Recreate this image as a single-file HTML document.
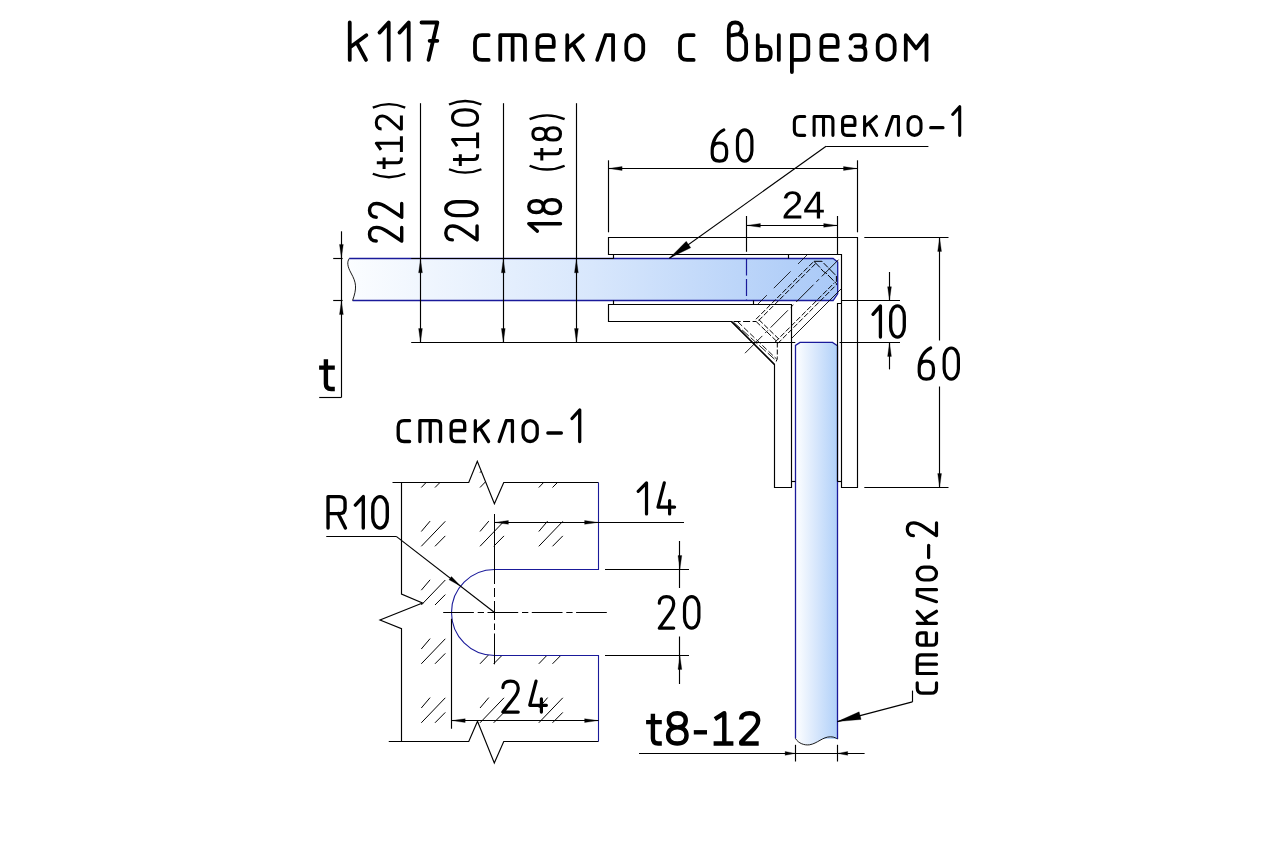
<!DOCTYPE html>
<html><head><meta charset="utf-8"><title>k117</title>
<style>
html,body{margin:0;padding:0;background:#fff;}
body{width:1280px;height:850px;overflow:hidden;font-family:"Liberation Sans",sans-serif;}
svg{display:block}
.t path{vector-effect:non-scaling-stroke}
</style></head><body>
<svg width="1280" height="850" viewBox="0 0 1280 850">
<rect width="1280" height="850" fill="#fff"/>
<defs>
<linearGradient id="g1" gradientUnits="userSpaceOnUse" x1="347" y1="0" x2="838" y2="0">
<stop offset="0" stop-color="#fbfdff"/><stop offset="0.5" stop-color="#d8e7fc"/><stop offset="1" stop-color="#a9c9f7"/></linearGradient>
<linearGradient id="g2" gradientUnits="userSpaceOnUse" x1="796" y1="0" x2="837.5" y2="0">
<stop offset="0" stop-color="#fdfeff"/><stop offset="0.5" stop-color="#d6e6fc"/><stop offset="1" stop-color="#b0d0f9"/></linearGradient>
<clipPath id="clipd"><path d="M401.25,482.5 L468.75,482.5 L477.3,461.25 L494.4,503.75 L503.75,482.5 L598.75,482.5 L598.75,569.5 L494.25,569.5 A43,43 0 0 0 494.25,655.5 L598.75,655.5 L598.75,741.25 L503.75,741.25 L494.3,763 L477.5,721.25 L468.75,741.25 L401.25,741.25 L401.25,628.75 L380,620 L422.5,603 L401.25,594 Z"/></clipPath>
</defs>
<path d="M349.2,258.5 C347.0,262 347.2,266 351,273 C356.5,283 357,288 352.6,300.5 L833.1,300.5 L837.7,293.9 L837.7,262.0 L833.1,258.5 Z" fill="url(#g1)" stroke="none" stroke-width="0" />
<path d="M795.5,345.4 L800.0,342.4 L832.5,342.4 L837.5,345.79999999999995 L837.5,739 L795.5,739 Z" fill="url(#g2)" stroke="none" stroke-width="0" />
<path d="M795.5,738.5 C798.5,743.5 804.5,745.5 809.5,744.8 C817.5,743.5 822.5,736.8 830.5,736.8 C834.5,736.8 836.5,738.5 837.5,739 Z" fill="url(#g2)" stroke="none" stroke-width="0" />
<path d="M349.2,258.5 L833.1,258.5 L837.7,262.0 L837.7,293.9 L833.1,300.5 L352.6,300.5" fill="none" stroke="#1a1a9a" stroke-width="1.3" />
<path d="M349.2,258.5 C347.0,262 347.2,266 351,273 C356.5,283 357,288 352.6,300.5" fill="none" stroke="#000" stroke-width="0.9" />
<line x1="411.20" y1="258.50" x2="613.50" y2="258.50" stroke="#000" stroke-width="1.15" stroke-linecap="butt"/>
<line x1="746.50" y1="258.50" x2="746.50" y2="300.50" stroke="#1a1a9a" stroke-width="1.2" stroke-dasharray="17 3.5" stroke-linecap="butt"/>
<path d="M795.5,738.5 L795.5,345.4 L800.0,342.4 L832.5,342.4 L837.5,345.79999999999995 L837.5,739" fill="none" stroke="#1a1a9a" stroke-width="1.3" />
<path d="M795.5,738.5 C798.5,743.5 804.5,745.5 809.5,744.8 C817.5,743.5 822.5,736.8 830.5,736.8 C834.5,736.8 836.5,738.5 837.5,739" fill="none" stroke="#000" stroke-width="0.9" />
<polygon points="608.50,237.50 857.50,237.50 857.50,487.50 841.50,487.50 841.50,254.50 608.50,254.50" fill="none" stroke="#000" stroke-width="1.15" stroke-linejoin="miter"/>
<polygon points="608.50,304.50 791.50,304.50 791.50,487.50 774.50,487.50 774.50,364.50 731.50,321.50 608.50,321.50" fill="none" stroke="#000" stroke-width="1.15" stroke-linejoin="miter"/>
<line x1="731.50" y1="321.50" x2="774.50" y2="364.50" stroke="#000" stroke-width="1.35" stroke-linecap="butt"/>
<polyline points="613.50,254.50 613.50,258.50" fill="none" stroke="#000" stroke-width="1.15" stroke-linejoin="miter"/>
<polyline points="788.50,254.50 788.50,258.50" fill="none" stroke="#000" stroke-width="1.15" stroke-linejoin="miter"/>
<polyline points="613.50,300.50 613.50,304.50" fill="none" stroke="#000" stroke-width="1.15" stroke-linejoin="miter"/>
<polyline points="753.50,300.50 753.50,304.50" fill="none" stroke="#000" stroke-width="1.15" stroke-linejoin="miter"/>
<polyline points="837.50,481.50 837.50,303.50 841.50,303.50" fill="none" stroke="#000" stroke-width="1.15" stroke-linejoin="miter"/>
<line x1="837.60" y1="481.50" x2="841.40" y2="481.50" stroke="#000" stroke-width="1.15" stroke-linecap="butt"/>
<line x1="791.70" y1="481.50" x2="795.50" y2="481.50" stroke="#000" stroke-width="1.15" stroke-linecap="butt"/>
<line x1="411.20" y1="342.50" x2="795.30" y2="342.50" stroke="#000" stroke-width="1.15" stroke-linecap="butt"/>
<line x1="839.50" y1="342.50" x2="900.00" y2="342.50" stroke="#000" stroke-width="1.15" stroke-linecap="butt"/>
<line x1="841.40" y1="300.50" x2="900.00" y2="300.50" stroke="#000" stroke-width="1.15" stroke-linecap="butt"/>
<line x1="756.00" y1="319.20" x2="813.90" y2="261.30" stroke="#000" stroke-width="1.0" stroke-dasharray="5.5 2" stroke-linecap="butt"/>
<line x1="758.60" y1="320.60" x2="816.50" y2="262.70" stroke="#000" stroke-width="1.0" stroke-dasharray="5.5 2" stroke-linecap="butt"/>
<line x1="777.60" y1="343.60" x2="836.40" y2="284.80" stroke="#000" stroke-width="1.0" stroke-dasharray="5.5 2" stroke-linecap="butt"/>
<line x1="775.20" y1="342.00" x2="834.30" y2="282.90" stroke="#000" stroke-width="1.0" stroke-dasharray="5.5 2" stroke-linecap="butt"/>
<path d="M813.9,261.3 L821.9,261.3 L836.4,276.0 L836.4,284.8" fill="none" stroke="#000" stroke-width="1.0" stroke-dasharray="9 1.5 6 1.5" />
<path d="M814.4,261.8 L820,267.5 Q823,272 826,273 L836.2,283.4" fill="none" stroke="#000" stroke-width="1.0" stroke-dasharray="8 1.5" />
<line x1="756.20" y1="321.60" x2="777.40" y2="342.00" stroke="#000" stroke-width="1.0" stroke-dasharray="5.5 2" stroke-linecap="butt"/>
<line x1="758.80" y1="319.60" x2="779.20" y2="339.40" stroke="#000" stroke-width="1.0" stroke-dasharray="5.5 2" stroke-linecap="butt"/>
<line x1="733.60" y1="321.50" x2="756.20" y2="321.50" stroke="#000" stroke-width="1.0" stroke-dasharray="7 2.5" stroke-linecap="butt"/>
<path d="M777.3,342.5 L777.3,357.5 Q777.3,360.5 775.8,361.4" fill="none" stroke="#000" stroke-width="1.0" stroke-dasharray="5 2" />
<line x1="733.60" y1="322.30" x2="777.00" y2="361.40" stroke="#000" stroke-width="0.9" stroke-dasharray="9 2.5" stroke-linecap="butt"/>
<line x1="737.80" y1="321.80" x2="776.60" y2="359.00" stroke="#000" stroke-width="0.9" stroke-dasharray="6 2.5" stroke-linecap="butt"/>
<line x1="745.00" y1="353.20" x2="838.50" y2="259.70" stroke="#000" stroke-width="0.9" stroke-dasharray="24.5 4 3.7 4" stroke-linecap="butt"/>
<line x1="758.00" y1="304.00" x2="766.90" y2="295.10" stroke="#000" stroke-width="0.8" stroke-linecap="butt"/>
<line x1="773.80" y1="288.20" x2="790.60" y2="271.40" stroke="#000" stroke-width="0.8" stroke-linecap="butt"/>
<line x1="798.00" y1="264.00" x2="807.00" y2="255.00" stroke="#000" stroke-width="0.8" stroke-linecap="butt"/>
<line x1="791.90" y1="338.10" x2="841.20" y2="288.80" stroke="#000" stroke-width="0.9" stroke-linecap="butt"/>
<line x1="333.20" y1="258.50" x2="342.60" y2="258.50" stroke="#000" stroke-width="1.15" stroke-linecap="butt"/>
<line x1="333.20" y1="300.50" x2="342.60" y2="300.50" stroke="#000" stroke-width="1.15" stroke-linecap="butt"/>
<line x1="341.50" y1="231.30" x2="341.50" y2="397.50" stroke="#000" stroke-width="1.15" stroke-linecap="butt"/>
<line x1="319.20" y1="397.50" x2="341.40" y2="397.50" stroke="#000" stroke-width="1.15" stroke-linecap="butt"/>
<polygon points="341.40,257.90 339.50,244.40 343.30,244.40" fill="#000" stroke="#000" stroke-width="0.3"/>
<polygon points="341.40,301.10 343.30,314.60 339.50,314.60" fill="#000" stroke="#000" stroke-width="0.3"/>
<line x1="420.50" y1="103.20" x2="420.50" y2="342.50" stroke="#000" stroke-width="1.15" stroke-linecap="butt"/>
<polygon points="420.50,259.30 422.40,272.80 418.60,272.80" fill="#000" stroke="#000" stroke-width="0.3"/>
<polygon points="420.50,342.00 418.60,328.50 422.40,328.50" fill="#000" stroke="#000" stroke-width="0.3"/>
<line x1="503.50" y1="103.20" x2="503.50" y2="342.50" stroke="#000" stroke-width="1.15" stroke-linecap="butt"/>
<polygon points="503.30,259.30 505.20,272.80 501.40,272.80" fill="#000" stroke="#000" stroke-width="0.3"/>
<polygon points="503.30,342.00 501.40,328.50 505.20,328.50" fill="#000" stroke="#000" stroke-width="0.3"/>
<line x1="576.50" y1="103.20" x2="576.50" y2="342.50" stroke="#000" stroke-width="1.15" stroke-linecap="butt"/>
<polygon points="576.40,259.30 578.30,272.80 574.50,272.80" fill="#000" stroke="#000" stroke-width="0.3"/>
<polygon points="576.40,342.00 574.50,328.50 578.30,328.50" fill="#000" stroke="#000" stroke-width="0.3"/>
<line x1="608.50" y1="160.30" x2="608.50" y2="232.30" stroke="#000" stroke-width="1.15" stroke-linecap="butt"/>
<line x1="857.50" y1="160.30" x2="857.50" y2="232.30" stroke="#000" stroke-width="1.15" stroke-linecap="butt"/>
<line x1="608.25" y1="168.50" x2="857.40" y2="168.50" stroke="#000" stroke-width="1.15" stroke-linecap="butt"/>
<polygon points="608.60,168.50 622.10,166.60 622.10,170.40" fill="#000" stroke="#000" stroke-width="0.3"/>
<polygon points="857.00,168.50 843.50,170.40 843.50,166.60" fill="#000" stroke="#000" stroke-width="0.3"/>
<line x1="746.50" y1="216.00" x2="746.50" y2="251.80" stroke="#000" stroke-width="1.15" stroke-linecap="butt"/>
<line x1="837.50" y1="216.00" x2="837.50" y2="254.40" stroke="#000" stroke-width="1.15" stroke-linecap="butt"/>
<line x1="746.50" y1="225.50" x2="837.60" y2="225.50" stroke="#000" stroke-width="1.15" stroke-linecap="butt"/>
<polygon points="746.90,225.40 760.40,223.50 760.40,227.30" fill="#000" stroke="#000" stroke-width="0.3"/>
<polygon points="837.20,225.40 823.70,227.30 823.70,223.50" fill="#000" stroke="#000" stroke-width="0.3"/>
<line x1="864.30" y1="237.50" x2="948.50" y2="237.50" stroke="#000" stroke-width="1.15" stroke-linecap="butt"/>
<line x1="864.30" y1="487.50" x2="948.50" y2="487.50" stroke="#000" stroke-width="1.15" stroke-linecap="butt"/>
<line x1="939.50" y1="237.50" x2="939.50" y2="340.50" stroke="#000" stroke-width="1.15" stroke-linecap="butt"/>
<line x1="939.50" y1="386.50" x2="939.50" y2="487.50" stroke="#000" stroke-width="1.15" stroke-linecap="butt"/>
<polygon points="939.60,237.90 941.50,251.40 937.70,251.40" fill="#000" stroke="#000" stroke-width="0.3"/>
<polygon points="939.60,487.10 937.70,473.60 941.50,473.60" fill="#000" stroke="#000" stroke-width="0.3"/>
<line x1="889.50" y1="272.00" x2="889.50" y2="300.60" stroke="#000" stroke-width="1.15" stroke-linecap="butt"/>
<line x1="889.50" y1="342.50" x2="889.50" y2="369.40" stroke="#000" stroke-width="1.15" stroke-linecap="butt"/>
<polygon points="889.50,300.20 887.60,286.70 891.40,286.70" fill="#000" stroke="#000" stroke-width="0.3"/>
<polygon points="889.50,342.90 891.40,356.40 887.60,356.40" fill="#000" stroke="#000" stroke-width="0.3"/>
<line x1="639.00" y1="753.50" x2="864.60" y2="753.50" stroke="#000" stroke-width="1.15" stroke-linecap="butt"/>
<line x1="795.50" y1="744.80" x2="795.50" y2="761.50" stroke="#000" stroke-width="1.15" stroke-linecap="butt"/>
<line x1="837.50" y1="744.80" x2="837.50" y2="761.50" stroke="#000" stroke-width="1.15" stroke-linecap="butt"/>
<polygon points="795.10,753.40 785.10,755.30 785.10,751.50" fill="#000" stroke="#000" stroke-width="0.3"/>
<polygon points="837.70,753.40 847.70,751.50 847.70,755.30" fill="#000" stroke="#000" stroke-width="0.3"/>
<line x1="669.40" y1="258.20" x2="826.10" y2="146.20" stroke="#000" stroke-width="1.15" stroke-linecap="butt"/>
<line x1="826.10" y1="146.50" x2="928.40" y2="146.50" stroke="#000" stroke-width="1.15" stroke-linecap="butt"/>
<polygon points="669.40,258.20 686.24,241.35 690.78,247.69" fill="#000" stroke="#000" stroke-width="0.3"/>
<line x1="837.40" y1="721.60" x2="912.40" y2="701.90" stroke="#000" stroke-width="1.15" stroke-linecap="butt"/>
<line x1="912.50" y1="701.90" x2="912.50" y2="690.60" stroke="#000" stroke-width="1.15" stroke-linecap="butt"/>
<polygon points="837.40,721.60 859.14,711.86 861.12,719.41" fill="#000" stroke="#000" stroke-width="0.3"/>
<g clip-path="url(#clipd)" stroke="#000" stroke-width="1.0" fill="none">
<path d="M362.6,487.5 l24,-25 M362.6,472.7 l8.8,-10.4 M376.2,487.5 l10.3,-10.4"/>
<path d="M362.6,546.3 l24,-25 M362.6,531.5 l8.8,-10.4 M376.2,546.3 l10.3,-10.4"/>
<path d="M362.6,605.0 l24,-25 M362.6,590.2 l8.8,-10.4 M376.2,605.0 l10.3,-10.4"/>
<path d="M362.6,663.8 l24,-25 M362.6,649.0 l8.8,-10.4 M376.2,663.8 l10.3,-10.4"/>
<path d="M362.6,722.8 l24,-25 M362.6,708.0 l8.8,-10.4 M376.2,722.8 l10.3,-10.4"/>
<path d="M421.3,487.5 l24,-25 M421.3,472.7 l8.8,-10.4 M435.0,487.5 l10.3,-10.4"/>
<path d="M421.3,546.3 l24,-25 M421.3,531.5 l8.8,-10.4 M435.0,546.3 l10.3,-10.4"/>
<path d="M421.3,605.0 l24,-25 M421.3,590.2 l8.8,-10.4 M435.0,605.0 l10.3,-10.4"/>
<path d="M421.3,663.8 l24,-25 M421.3,649.0 l8.8,-10.4 M435.0,663.8 l10.3,-10.4"/>
<path d="M421.3,722.8 l24,-25 M421.3,708.0 l8.8,-10.4 M435.0,722.8 l10.3,-10.4"/>
<path d="M480.0,487.5 l24,-25 M480.0,472.7 l8.8,-10.4 M493.7,487.5 l10.3,-10.4"/>
<path d="M480.0,546.3 l24,-25 M480.0,531.5 l8.8,-10.4 M493.7,546.3 l10.3,-10.4"/>
<path d="M480.0,605.0 l24,-25 M480.0,590.2 l8.8,-10.4 M493.7,605.0 l10.3,-10.4"/>
<path d="M480.0,663.8 l24,-25 M480.0,649.0 l8.8,-10.4 M493.7,663.8 l10.3,-10.4"/>
<path d="M480.0,722.8 l24,-25 M480.0,708.0 l8.8,-10.4 M493.7,722.8 l10.3,-10.4"/>
<path d="M538.8,487.5 l24,-25 M538.8,472.7 l8.8,-10.4 M552.5,487.5 l10.3,-10.4"/>
<path d="M538.8,546.3 l24,-25 M538.8,531.5 l8.8,-10.4 M552.5,546.3 l10.3,-10.4"/>
<path d="M538.8,605.0 l24,-25 M538.8,590.2 l8.8,-10.4 M552.5,605.0 l10.3,-10.4"/>
<path d="M538.8,663.8 l24,-25 M538.8,649.0 l8.8,-10.4 M552.5,663.8 l10.3,-10.4"/>
<path d="M538.8,722.8 l24,-25 M538.8,708.0 l8.8,-10.4 M552.5,722.8 l10.3,-10.4"/>
</g>
<polyline points="392.50,482.50 468.75,482.50 477.30,461.25 494.40,503.75 503.75,482.50 598.50,482.50" fill="none" stroke="#000" stroke-width="1.15" stroke-linejoin="miter"/>
<polyline points="401.50,482.50 401.50,594.00 422.50,603.00 380.00,620.00 401.50,628.75 401.50,741.50" fill="none" stroke="#000" stroke-width="1.15" stroke-linejoin="miter"/>
<polyline points="388.75,741.50 468.75,741.50 477.50,721.25 494.30,763.00 503.75,741.50 598.50,741.50" fill="none" stroke="#000" stroke-width="1.15" stroke-linejoin="miter"/>
<path d="M598.5,482.5 L598.5,569.5 L494.5,569.5 A43.0,43.0 0 0 0 494.5,655.5 L598.5,655.5 L598.5,741.5" fill="none" stroke="#1a1a9a" stroke-width="1.1" />
<line x1="443.20" y1="612.50" x2="606.80" y2="612.50" stroke="#000" stroke-width="1.0" stroke-dasharray="30.7 3.8 6.3 3.5" stroke-linecap="butt"/>
<line x1="494.50" y1="514.00" x2="494.50" y2="664.30" stroke="#000" stroke-width="1.0" stroke-dasharray="70 4 9 4 19 3.5 6.5 3.5 31" stroke-linecap="butt"/>
<line x1="494.50" y1="522.50" x2="684.00" y2="522.50" stroke="#000" stroke-width="1.15" stroke-linecap="butt"/>
<polygon points="494.90,522.40 508.40,520.50 508.40,524.30" fill="#000" stroke="#000" stroke-width="0.3"/>
<polygon points="598.10,522.40 584.60,524.30 584.60,520.50" fill="#000" stroke="#000" stroke-width="0.3"/>
<line x1="451.50" y1="618.75" x2="451.50" y2="728.75" stroke="#000" stroke-width="1.15" stroke-linecap="butt"/>
<line x1="451.30" y1="720.50" x2="598.50" y2="720.50" stroke="#000" stroke-width="1.15" stroke-linecap="butt"/>
<polygon points="451.70,720.60 465.20,718.70 465.20,722.50" fill="#000" stroke="#000" stroke-width="0.3"/>
<polygon points="598.10,720.60 584.60,722.50 584.60,718.70" fill="#000" stroke="#000" stroke-width="0.3"/>
<line x1="605.00" y1="569.50" x2="689.00" y2="569.50" stroke="#000" stroke-width="1.15" stroke-linecap="butt"/>
<line x1="605.00" y1="655.50" x2="689.00" y2="655.50" stroke="#000" stroke-width="1.15" stroke-linecap="butt"/>
<line x1="679.50" y1="541.00" x2="679.50" y2="588.00" stroke="#000" stroke-width="1.15" stroke-linecap="butt"/>
<line x1="679.50" y1="636.50" x2="679.50" y2="684.00" stroke="#000" stroke-width="1.15" stroke-linecap="butt"/>
<polygon points="679.90,569.10 678.00,555.60 681.80,555.60" fill="#000" stroke="#000" stroke-width="0.3"/>
<polygon points="679.90,655.90 681.80,669.40 678.00,669.40" fill="#000" stroke="#000" stroke-width="0.3"/>
<line x1="326.25" y1="536.50" x2="396.25" y2="536.50" stroke="#000" stroke-width="1.15" stroke-linecap="butt"/>
<line x1="396.25" y1="536.40" x2="494.50" y2="612.50" stroke="#000" stroke-width="1.15" stroke-linecap="butt"/>
<polygon points="460.50,586.10 448.99,579.73 451.44,576.57" fill="#000" stroke="#000" stroke-width="0.3"/>
<g transform="translate(349.75,59.90) rotate(0) scale(3.6900,-3.7400)" fill="none" stroke="#000" stroke-width="3.8" stroke-linecap="round" stroke-linejoin="round" vector-effect="non-scaling-stroke" class="t"><path transform="translate(0.000,0)" d="M0,0 L0,10.0 M0,3.3 L4.5,6.6 M1.9,4.6 L4.4,0"/><path transform="translate(8.062,0)" d="M0,7.3 L2.5,10.0 L2.5,0"/><path transform="translate(13.482,0)" d="M0,7.3 L2.5,10.0 L2.5,0"/><path transform="translate(19.444,0)" d="M0,10.0 L4.3,10.0 L1.9,0 M2.2,5.1 L4.3,5.1"/><path transform="translate(33.943,0)" d="M3.7,6.6 L1.9,6.6 Q0,6.6 0,4.699999999999999 L0,1.9 Q0,0 1.9,0 L3.7,0"/><path transform="translate(40.786,0)" d="M0,0 L0,6.6 L5.3,6.6 Q6.7,6.6 6.7,5.199999999999999 L6.7,0 M3.35,6.6 L3.35,0"/><path transform="translate(50.881,0)" d="M0,3.5 L4.4,3.5 L4.4,5.1 Q4.4,6.6 2.9,6.6 L1.5,6.6 Q0,6.6 0,5.1 L0,1.5 Q0,0 1.5,0 L4.3,0"/><path transform="translate(58.943,0)" d="M0,0 L0,6.6 M0,3.0 L4.2,6.6 M1.6,4.2 L4.3,0"/><path transform="translate(67.060,0)" d="M0,0 L2.3,6.6 L4.3,6.6 L4.3,0"/><path transform="translate(74.932,0)" d="M0,2.3 L0,4.3 C0,5.5649999999999995 1.035,6.6 2.3,6.6 C3.5649999999999995,6.6 4.6,5.5649999999999995 4.6,4.3 L4.6,2.3 C4.6,1.035 3.5649999999999995,0 2.3,0 C1.035,0 0,1.035 0,2.3 Z"/><path transform="translate(89.499,0)" d="M3.7,6.6 L1.9,6.6 Q0,6.6 0,4.699999999999999 L0,1.9 Q0,0 1.9,0 L3.7,0"/><path transform="translate(102.724,0)" d="M0,2.2 L0,8.2 C0,9.4 0.7,10 1.75,10 C2.8,10 3.5,9.4 3.5,8.4 C3.5,7.7 3.2,7.2 2.6,6.9 L0.3,6.5 M2.6,6.9 C3.9,6.5 4.7,5.6 4.7,4.3 L4.7,2.2 C4.7,0.8 3.8,0 2.35,0 C0.9,0 0,0.8 0,2.2"/><path transform="translate(110.583,0)" d="M0,6.6 L0,0 L2.0,0 Q3.5,0 3.5,1.5 L3.5,2.2 Q3.5,3.7 2.0,3.7 L0,3.7 M5.7,6.6 L5.7,0"/><path transform="translate(119.824,0)" d="M0,-3.25 L0,6.6 L2.95,6.6 Q4.45,6.6 4.45,5.1 L4.45,1.5 Q4.45,0 2.95,0 L0,0"/><path transform="translate(127.818,0)" d="M0,3.5 L4.4,3.5 L4.4,5.1 Q4.4,6.6 2.9,6.6 L1.5,6.6 Q0,6.6 0,5.1 L0,1.5 Q0,0 1.5,0 L4.3,0"/><path transform="translate(135.650,0)" d="M0.1,5.699999999999999 Q0.3,6.6 1.5,6.6 L2.6,6.6 Q3.9,6.6 3.9,5.3 L3.9,4.8 Q3.9,3.55 2.7,3.55 L1.4,3.55 M2.7,3.55 Q4.1,3.55 4.1,2.3 L4.1,1.4 Q4.1,0 2.7,0 L1.5,0 Q0.2,0 0,1.0"/><path transform="translate(143.076,0)" d="M0,2.3 L0,4.3 C0,5.5649999999999995 1.035,6.6 2.3,6.6 C3.5649999999999995,6.6 4.6,5.5649999999999995 4.6,4.3 L4.6,2.3 C4.6,1.035 3.5649999999999995,0 2.3,0 C1.035,0 0,1.035 0,2.3 Z"/><path transform="translate(150.691,0)" d="M0,0 L0,6.6 L2.8,3.1 L5.6,6.6 L5.6,0"/></g>
<g transform="translate(712.20,161.10) rotate(0) scale(3.1383,-3.1200)" fill="none" stroke="#000" stroke-width="3.2" stroke-linecap="round" stroke-linejoin="round" vector-effect="non-scaling-stroke" class="t"><path transform="translate(0.000,0)" d="M3.7,10.0 C1.5,9.0 0,6.5 0,3.5 L0,2.3 C0,0.8 0.9,0 2.3,0 C3.7,0 4.6,0.8 4.6,2.3 L4.6,3.5 C4.6,5.0 3.7,5.8 2.3,5.8 C0.9,5.8 0,5.0 0,3.5"/><path transform="translate(8.050,0)" d="M0,3.3 L0,6.7 C0,8.515 1.035,10.0 2.3,10.0 C3.5649999999999995,10.0 4.6,8.515 4.6,6.7 L4.6,3.3 C4.6,1.4849999999999999 3.5649999999999995,0 2.3,0 C1.035,0 0,1.4849999999999999 0,3.3 Z"/></g>
<g transform="translate(781.6,218.5) scale(0.019043,-0.019043)" fill="#000"><path d="M103 0V127Q154 244 227.5 333.5Q301 423 382.0 495.5Q463 568 542.5 630.0Q622 692 686.0 754.0Q750 816 789.5 884.0Q829 952 829 1038Q829 1154 761.0 1218.0Q693 1282 572 1282Q457 1282 382.5 1219.5Q308 1157 295 1044L111 1061Q131 1230 254.5 1330.0Q378 1430 572 1430Q785 1430 899.5 1329.5Q1014 1229 1014 1044Q1014 962 976.5 881.0Q939 800 865.0 719.0Q791 638 582 468Q467 374 399.0 298.5Q331 223 301 153H1036V0Z"/><path transform="translate(1139,0)" d="M881 319V0H711V319H47V459L692 1409H881V461H1079V319ZM711 1206Q709 1200 683.0 1153.0Q657 1106 644 1087L283 555L229 481L213 461H711Z"/></g>
<g transform="translate(794.35,135.35) rotate(0) scale(2.8049,-2.8600)" fill="none" stroke="#000" stroke-width="3.1" stroke-linecap="round" stroke-linejoin="round" vector-effect="non-scaling-stroke" class="t"><path transform="translate(0.000,0)" d="M3.7,6.6 L1.9,6.6 Q0,6.6 0,4.699999999999999 L0,1.9 Q0,0 1.9,0 L3.7,0"/><path transform="translate(7.050,0)" d="M0,0 L0,6.6 L5.3,6.6 Q6.7,6.6 6.7,5.199999999999999 L6.7,0 M3.35,6.6 L3.35,0"/><path transform="translate(17.200,0)" d="M0,3.5 L4.4,3.5 L4.4,5.1 Q4.4,6.6 2.9,6.6 L1.5,6.6 Q0,6.6 0,5.1 L0,1.5 Q0,0 1.5,0 L4.3,0"/><path transform="translate(25.050,0)" d="M0,0 L0,6.6 M0,3.0 L4.2,6.6 M1.6,4.2 L4.3,0"/><path transform="translate(32.800,0)" d="M0,0 L2.3,6.6 L4.3,6.6 L4.3,0"/><path transform="translate(40.550,0)" d="M0,2.3 L0,4.3 C0,5.5649999999999995 1.035,6.6 2.3,6.6 C3.5649999999999995,6.6 4.6,5.5649999999999995 4.6,4.3 L4.6,2.3 C4.6,1.035 3.5649999999999995,0 2.3,0 C1.035,0 0,1.035 0,2.3 Z"/><path transform="translate(48.600,0)" d="M0,2.7 L4.4,2.7"/><path transform="translate(56.450,0)" d="M0,7.3 L2.5,10.0 L2.5,0"/></g>
<g transform="translate(873.00,337.10) rotate(0) scale(2.9668,-3.1200)" fill="none" stroke="#000" stroke-width="3.3" stroke-linecap="round" stroke-linejoin="round" vector-effect="non-scaling-stroke" class="t"><path transform="translate(0.000,0)" d="M0,7.3 L2.5,10.0 L2.5,0"/><path transform="translate(5.950,0)" d="M0,3.3 L0,6.7 C0,8.515 1.035,10.0 2.3,10.0 C3.5649999999999995,10.0 4.6,8.515 4.6,6.7 L4.6,3.3 C4.6,1.4849999999999999 3.5649999999999995,0 2.3,0 C1.035,0 0,1.4849999999999999 0,3.3 Z"/></g>
<g transform="translate(919.20,379.10) rotate(0) scale(3.0988,-3.1100)" fill="none" stroke="#000" stroke-width="3.2" stroke-linecap="round" stroke-linejoin="round" vector-effect="non-scaling-stroke" class="t"><path transform="translate(0.000,0)" d="M3.7,10.0 C1.5,9.0 0,6.5 0,3.5 L0,2.3 C0,0.8 0.9,0 2.3,0 C3.7,0 4.6,0.8 4.6,2.3 L4.6,3.5 C4.6,5.0 3.7,5.8 2.3,5.8 C0.9,5.8 0,5.0 0,3.5"/><path transform="translate(8.050,0)" d="M0,3.3 L0,6.7 C0,8.515 1.035,10.0 2.3,10.0 C3.5649999999999995,10.0 4.6,8.515 4.6,6.7 L4.6,3.3 C4.6,1.4849999999999999 3.5649999999999995,0 2.3,0 C1.035,0 0,1.4849999999999999 0,3.3 Z"/></g>
<g transform="translate(401.70,241.05) rotate(-90) scale(2.9644,-3.2200)" fill="none" stroke="#000" stroke-width="3.4" stroke-linecap="round" stroke-linejoin="round" vector-effect="non-scaling-stroke" class="t"><path transform="translate(0.000,0)" d="M0,7.9 C0,9.2 0.9,10 2.3,10 C3.7,10 4.6,9.2 4.6,7.8 C4.6,6.6 4.2,5.8 3.4,4.7 L0,0 L4.6,0"/><path transform="translate(8.050,0)" d="M0,7.9 C0,9.2 0.9,10 2.3,10 C3.7,10 4.6,9.2 4.6,7.8 C4.6,6.6 4.2,5.8 3.4,4.7 L0,0 L4.6,0"/></g>
<g transform="translate(477.05,239.90) rotate(-90) scale(3.0198,-3.1250)" fill="none" stroke="#000" stroke-width="3.4" stroke-linecap="round" stroke-linejoin="round" vector-effect="non-scaling-stroke" class="t"><path transform="translate(0.000,0)" d="M0,7.9 C0,9.2 0.9,10 2.3,10 C3.7,10 4.6,9.2 4.6,7.8 C4.6,6.6 4.2,5.8 3.4,4.7 L0,0 L4.6,0"/><path transform="translate(8.050,0)" d="M0,3.3 L0,6.7 C0,8.515 1.035,10.0 2.3,10.0 C3.5649999999999995,10.0 4.6,8.515 4.6,6.7 L4.6,3.3 C4.6,1.4849999999999999 3.5649999999999995,0 2.3,0 C1.035,0 0,1.4849999999999999 0,3.3 Z"/></g>
<g transform="translate(560.50,231.10) rotate(-90) scale(2.9668,-3.1700)" fill="none" stroke="#000" stroke-width="3.4" stroke-linecap="round" stroke-linejoin="round" vector-effect="non-scaling-stroke" class="t"><path transform="translate(0.000,0)" d="M0,7.3 L2.5,10.0 L2.5,0"/><path transform="translate(5.950,0)" d="M2.3,5.4 C1.0,5.4 0.3,6.2 0.3,7.6 C0.3,9.1 1.0,10 2.3,10 C3.6,10 4.3,9.1 4.3,7.6 C4.3,6.2 3.6,5.4 2.3,5.4 C0.9,5.4 0,4.4 0,2.7 C0,0.9 0.9,0 2.3,0 C3.7,0 4.6,0.9 4.6,2.7 C4.6,4.4 3.7,5.4 2.3,5.4"/></g>
<path transform="translate(401.40,177.25) rotate(-90) scale(1.0,-1.0)" d="M3.5,28.6 Q-3.5,12.4 3.5,-3.8" fill="none" stroke="#000" stroke-width="2.30" stroke-linecap="butt" stroke-linejoin="round"/>
<path transform="translate(401.40,162.75) rotate(-90) scale(1.0,-1.0)" d="M0,24.6 L0,4 Q0,0 4,0 L5.3,0 M-6.3,17.3 L5.3,17.3" fill="none" stroke="#000" stroke-width="3.00" stroke-linecap="butt" stroke-linejoin="round"/>
<path transform="translate(401.40,143.20) rotate(-90) scale(1.0,-1.0)" d="M-8.8,0 L6.9,0 M0,0 L0,25.1 L-6.6,20.4" fill="none" stroke="#000" stroke-width="3.00" stroke-linecap="butt" stroke-linejoin="round"/>
<path transform="translate(401.40,129.00) rotate(-90) scale(1.0,-1.0)" d="M0,19.8 C0,23.2 2.6,25.1 6.4,25.1 C10.4,25.1 13,22.8 13,19 C13,15.6 10.8,12.8 7,9 L0,1.2 L0,0 L13.4,0" fill="none" stroke="#000" stroke-width="3.00" stroke-linecap="butt" stroke-linejoin="round"/>
<path transform="translate(401.40,104.10) rotate(-90) scale(1.0,-1.0)" d="M-3.5,28.6 Q3.5,12.4 -3.5,-3.8" fill="none" stroke="#000" stroke-width="2.30" stroke-linecap="butt" stroke-linejoin="round"/>
<path transform="translate(477.60,172.70) rotate(-90) scale(1.0,-1.0)" d="M3.5,28.6 Q-3.5,12.4 3.5,-3.8" fill="none" stroke="#000" stroke-width="2.30" stroke-linecap="butt" stroke-linejoin="round"/>
<path transform="translate(477.60,159.60) rotate(-90) scale(1.0,-1.0)" d="M0,24.6 L0,4 Q0,0 4,0 L5.3,0 M-6.3,17.3 L5.3,17.3" fill="none" stroke="#000" stroke-width="3.00" stroke-linecap="butt" stroke-linejoin="round"/>
<path transform="translate(477.60,139.50) rotate(-90) scale(1.0,-1.0)" d="M-8.8,0 L6.9,0 M0,0 L0,25.1 L-6.6,20.4" fill="none" stroke="#000" stroke-width="3.00" stroke-linecap="butt" stroke-linejoin="round"/>
<path transform="translate(477.60,125.30) rotate(-90) scale(1.0,-1.0)" d="M7.8,0 C3,0 0,4.5 0,12.55 C0,20.6 3,25.1 7.8,25.1 C12.6,25.1 15.6,20.6 15.6,12.55 C15.6,4.5 12.6,0 7.8,0 Z" fill="none" stroke="#000" stroke-width="3.00" stroke-linecap="butt" stroke-linejoin="round"/>
<path transform="translate(477.60,101.00) rotate(-90) scale(1.0,-1.0)" d="M-3.5,28.6 Q3.5,12.4 -3.5,-3.8" fill="none" stroke="#000" stroke-width="2.30" stroke-linecap="butt" stroke-linejoin="round"/>
<path transform="translate(560.50,169.50) rotate(-90) scale(1.08,-1.08)" d="M3.5,28.6 Q-3.5,12.4 3.5,-3.8" fill="none" stroke="#000" stroke-width="2.13" stroke-linecap="butt" stroke-linejoin="round"/>
<path transform="translate(560.50,153.75) rotate(-90) scale(1.08,-1.08)" d="M0,24.6 L0,4 Q0,0 4,0 L5.3,0 M-6.3,17.3 L5.3,17.3" fill="none" stroke="#000" stroke-width="2.78" stroke-linecap="butt" stroke-linejoin="round"/>
<path transform="translate(560.50,140.10) rotate(-90) scale(1.08,-1.08)" d="M5.75,13.6 C2,13.6 0,11 0,6.8 C0,2.6 2,0 5.75,0 C9.5,0 11.5,2.6 11.5,6.8 C11.5,11 9.5,13.6 5.75,13.6 C2.4,13.6 0.5,15.8 0.5,19.6 C0.5,23.3 2.4,25.6 5.75,25.6 C9.1,25.6 11,23.3 11,19.6 C11,15.8 9.1,13.6 5.75,13.6" fill="none" stroke="#000" stroke-width="2.78" stroke-linecap="butt" stroke-linejoin="round"/>
<path transform="translate(560.50,115.30) rotate(-90) scale(1.08,-1.08)" d="M-3.5,28.6 Q3.5,12.4 -3.5,-3.8" fill="none" stroke="#000" stroke-width="2.13" stroke-linecap="butt" stroke-linejoin="round"/>
<path transform="translate(325.90,389.00) scale(1.0,-1.0)" d="M0,29.8 L0,5.2 Q0,0 5.2,0 L8.9,0 M-6.8,21.4 L8.9,21.4" fill="none" stroke="#000" stroke-width="4.4" stroke-linecap="butt" stroke-linejoin="round" vector-effect="non-scaling-stroke"/>
<path transform="translate(652.90,743.50) scale(1.0,-1.0)" d="M0,29.8 L0,5.2 Q0,0 5.2,0 L8.9,0 M-6.8,21.4 L8.9,21.4" fill="none" stroke="#000" stroke-width="4.4" stroke-linecap="butt" stroke-linejoin="round" vector-effect="non-scaling-stroke"/>
<path transform="translate(668.10,743.50) scale(1.604,-1.184)" d="M5.75,13.6 C2,13.6 0,11 0,6.8 C0,2.6 2,0 5.75,0 C9.5,0 11.5,2.6 11.5,6.8 C11.5,11 9.5,13.6 5.75,13.6 C2.4,13.6 0.5,15.8 0.5,19.6 C0.5,23.3 2.4,25.6 5.75,25.6 C9.1,25.6 11,23.3 11,19.6 C11,15.8 9.1,13.6 5.75,13.6" fill="none" stroke="#000" stroke-width="4.4" stroke-linecap="butt" stroke-linejoin="round" vector-effect="non-scaling-stroke"/>
<path transform="translate(693.80,732.30) scale(1.0,-1.0)" d="M0,0 L13.2,0" fill="none" stroke="#000" stroke-width="4.4" stroke-linecap="butt" stroke-linejoin="round" vector-effect="non-scaling-stroke"/>
<path transform="translate(724.30,743.50) scale(1.0,-1.0)" d="M-10.7,0 L9.1,0 M0,0 L0,30.3 L-9.4,24.4" fill="none" stroke="#000" stroke-width="4.4" stroke-linecap="butt" stroke-linejoin="round" vector-effect="non-scaling-stroke"/>
<path transform="translate(741.20,743.50) scale(1.306,-1.207)" d="M0,19.8 C0,23.2 2.6,25.1 6.4,25.1 C10.4,25.1 13,22.8 13,19 C13,15.6 10.8,12.8 7,9 L0,1.2 L0,0 L13.4,0" fill="none" stroke="#000" stroke-width="4.4" stroke-linecap="butt" stroke-linejoin="round" vector-effect="non-scaling-stroke"/>
<g transform="translate(398.20,441.50) rotate(0) scale(3.0789,-3.1500)" fill="none" stroke="#000" stroke-width="3.3" stroke-linecap="round" stroke-linejoin="round" vector-effect="non-scaling-stroke" class="t"><path transform="translate(0.000,0)" d="M3.7,6.6 L1.9,6.6 Q0,6.6 0,4.699999999999999 L0,1.9 Q0,0 1.9,0 L3.7,0"/><path transform="translate(7.050,0)" d="M0,0 L0,6.6 L5.3,6.6 Q6.7,6.6 6.7,5.199999999999999 L6.7,0 M3.35,6.6 L3.35,0"/><path transform="translate(17.200,0)" d="M0,3.5 L4.4,3.5 L4.4,5.1 Q4.4,6.6 2.9,6.6 L1.5,6.6 Q0,6.6 0,5.1 L0,1.5 Q0,0 1.5,0 L4.3,0"/><path transform="translate(25.050,0)" d="M0,0 L0,6.6 M0,3.0 L4.2,6.6 M1.6,4.2 L4.3,0"/><path transform="translate(32.800,0)" d="M0,0 L2.3,6.6 L4.3,6.6 L4.3,0"/><path transform="translate(40.550,0)" d="M0,2.3 L0,4.3 C0,5.5649999999999995 1.035,6.6 2.3,6.6 C3.5649999999999995,6.6 4.6,5.5649999999999995 4.6,4.3 L4.6,2.3 C4.6,1.035 3.5649999999999995,0 2.3,0 C1.035,0 0,1.035 0,2.3 Z"/><path transform="translate(48.600,0)" d="M0,2.7 L4.4,2.7"/><path transform="translate(56.450,0)" d="M0,7.3 L2.5,10.0 L2.5,0"/></g>
<g transform="translate(328.05,528.10) rotate(0) scale(3.1500,-3.1500)" fill="none" stroke="#000" stroke-width="3.4" stroke-linecap="round" stroke-linejoin="round" vector-effect="non-scaling-stroke" class="t"><path transform="translate(0.000,0)" d="M0,0 L0,10.0 L3.6,10.0 Q5.4,10.0 5.4,8.3 L5.4,6.3 Q5.4,4.6 3.6,4.6 L0,4.6 M3.2,4.6 L5.5,0"/><path transform="translate(8.683,0)" d="M0,7.3 L2.5,10.0 L2.5,0"/><path transform="translate(14.206,0)" d="M0,3.3 L0,6.7 C0,8.515 1.035,10.0 2.3,10.0 C3.5649999999999995,10.0 4.6,8.515 4.6,6.7 L4.6,3.3 C4.6,1.4849999999999999 3.5649999999999995,0 2.3,0 C1.035,0 0,1.4849999999999999 0,3.3 Z"/></g>
<g transform="translate(638.20,513.90) rotate(0) scale(3.3242,-3.1000)" fill="none" stroke="#000" stroke-width="3.2" stroke-linecap="round" stroke-linejoin="round" vector-effect="non-scaling-stroke" class="t"><path transform="translate(0.000,0)" d="M0,7.3 L2.5,10.0 L2.5,0"/><path transform="translate(5.950,0)" d="M1.9,10.0 L0,2.2 L5.0,2.2 M3.5,4.3 L3.5,0"/></g>
<g transform="translate(659.30,628.10) rotate(0) scale(3.1304,-3.1500)" fill="none" stroke="#000" stroke-width="3.2" stroke-linecap="round" stroke-linejoin="round" vector-effect="non-scaling-stroke" class="t"><path transform="translate(0.000,0)" d="M0,7.9 C0,9.2 0.9,10 2.3,10 C3.7,10 4.6,9.2 4.6,7.8 C4.6,6.6 4.2,5.8 3.4,4.7 L0,0 L4.6,0"/><path transform="translate(8.050,0)" d="M0,3.3 L0,6.7 C0,8.515 1.035,10.0 2.3,10.0 C3.5649999999999995,10.0 4.6,8.515 4.6,6.7 L4.6,3.3 C4.6,1.4849999999999999 3.5649999999999995,0 2.3,0 C1.035,0 0,1.4849999999999999 0,3.3 Z"/></g>
<g transform="translate(502.90,712.10) rotate(0) scale(3.3333,-3.1000)" fill="none" stroke="#000" stroke-width="3.2" stroke-linecap="round" stroke-linejoin="round" vector-effect="non-scaling-stroke" class="t"><path transform="translate(0.000,0)" d="M0,7.9 C0,9.2 0.9,10 2.3,10 C3.7,10 4.6,9.2 4.6,7.8 C4.6,6.6 4.2,5.8 3.4,4.7 L0,0 L4.6,0"/><path transform="translate(8.050,0)" d="M1.9,10.0 L0,2.2 L5.0,2.2 M3.5,4.3 L3.5,0"/></g>
<g transform="translate(936.50,693.20) rotate(-90) scale(2.7912,-2.9200)" fill="none" stroke="#000" stroke-width="3.2" stroke-linecap="round" stroke-linejoin="round" vector-effect="non-scaling-stroke" class="t"><path transform="translate(0.000,0)" d="M3.7,6.6 L1.9,6.6 Q0,6.6 0,4.699999999999999 L0,1.9 Q0,0 1.9,0 L3.7,0"/><path transform="translate(7.050,0)" d="M0,0 L0,6.6 L5.3,6.6 Q6.7,6.6 6.7,5.199999999999999 L6.7,0 M3.35,6.6 L3.35,0"/><path transform="translate(17.200,0)" d="M0,3.5 L4.4,3.5 L4.4,5.1 Q4.4,6.6 2.9,6.6 L1.5,6.6 Q0,6.6 0,5.1 L0,1.5 Q0,0 1.5,0 L4.3,0"/><path transform="translate(25.050,0)" d="M0,0 L0,6.6 M0,3.0 L4.2,6.6 M1.6,4.2 L4.3,0"/><path transform="translate(32.800,0)" d="M0,0 L2.3,6.6 L4.3,6.6 L4.3,0"/><path transform="translate(40.550,0)" d="M0,2.3 L0,4.3 C0,5.5649999999999995 1.035,6.6 2.3,6.6 C3.5649999999999995,6.6 4.6,5.5649999999999995 4.6,4.3 L4.6,2.3 C4.6,1.035 3.5649999999999995,0 2.3,0 C1.035,0 0,1.035 0,2.3 Z"/><path transform="translate(48.600,0)" d="M0,2.7 L4.4,2.7"/><path transform="translate(56.450,0)" d="M0,7.9 C0,9.2 0.9,10 2.3,10 C3.7,10 4.6,9.2 4.6,7.8 C4.6,6.6 4.2,5.8 3.4,4.7 L0,0 L4.6,0"/></g>
</svg>
</body></html>
